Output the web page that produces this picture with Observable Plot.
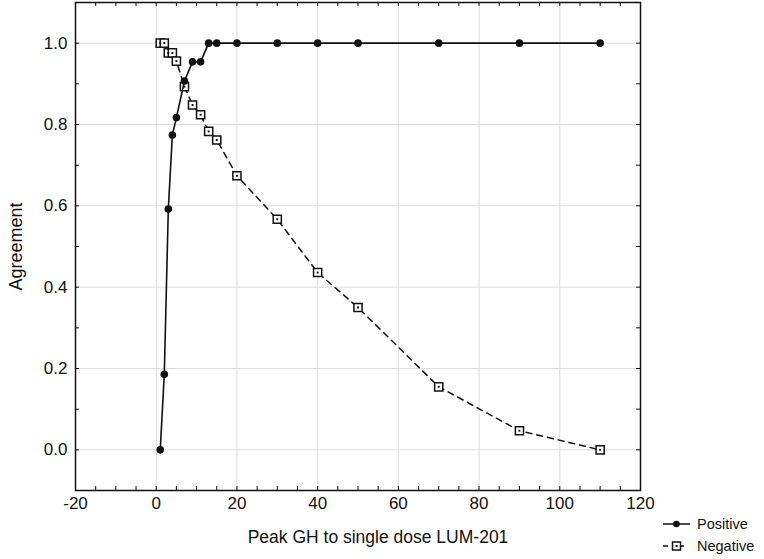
<!DOCTYPE html>
<html><head><meta charset="utf-8">
<script src="https://cdn.jsdelivr.net/npm/d3@7"></script>
<script src="https://cdn.jsdelivr.net/npm/@observablehq/plot@0.6"></script>
<style>
body{margin:0;background:#fff;font-family:"Liberation Sans",Arial,sans-serif}
#wrap{position:relative;width:764px;height:559px}
#legend{position:absolute;left:0;top:0}
</style>
</head><body><div id="wrap"></div>
<script>
// Data
const peakGH = [1, 2, 3, 4, 5, 7, 9, 11, 13, 15, 20, 30, 40, 50, 70, 90, 110];
const positiveAgreement = [0.0, 0.186, 0.592, 0.774, 0.817, 0.907, 0.954, 0.954, 1.0, 1.0, 1.0, 1.0, 1.0, 1.0, 1.0, 1.0, 1.0];
const negativeAgreement = [1.0, 1.0, 0.976, 0.976, 0.956, 0.893, 0.848, 0.824, 0.783, 0.762, 0.674, 0.567, 0.436, 0.35, 0.155, 0.047, 0.0];
const xTicks = [-20, 0, 20, 40, 60, 80, 100, 120];
const yTicks = [0, 0.2, 0.4, 0.6, 0.8, 1.0];
const xMinorTicks = d3.range(-20, 121, 5);
const yMinorTicks = d3.range(-1, 12).map(d => d / 10);
const seriesNames = ["Positive", "Negative"];
const xTitle = "Peak GH to single dose LUM-201";
const yTitle = "Agreement";

const pos = peakGH.map((x, i) => ({x, y: positiveAgreement[i]}));
const neg = peakGH.map((x, i) => ({x, y: negativeAgreement[i]}));

const W = 764, H = 559, mt = 2, mb = 69, ml = 75, mr = 124;
const fw = W - ml - mr, fh = H - mt - mb;
const tk = 4;
const FONT = '"Liberation Sans", Arial, sans-serif';

const chart = Plot.plot({
  width: W, height: H,
  marginTop: mt, marginBottom: mb, marginLeft: ml, marginRight: mr,
  style: {fontFamily: FONT, color: "#111", background: "#fff"},
  x: {domain: [-20, 120]},
  y: {domain: [-0.1, 1.1]},
  marks: [
    Plot.gridX(xTicks, {stroke: "#dcdcdc", strokeOpacity: 1}),
    Plot.gridY(yTicks, {stroke: "#dcdcdc", strokeOpacity: 1}),
    Plot.axisX(xTicks, {tickSize: 0, tickPadding: 6, fontSize: 17, label: null, tickFormat: d => String(d)}),
    Plot.axisY(yTicks, {tickSize: 0, tickPadding: 8, fontSize: 17, label: null, tickFormat: d3.format(".1f")}),
    // inward ticks on all four sides
    Plot.tickX(xMinorTicks, {x: d => d, insetTop: fh - tk, stroke: "#111"}),
    Plot.tickX(xMinorTicks, {x: d => d, insetBottom: fh - tk, stroke: "#111"}),
    Plot.tickY(yMinorTicks, {y: d => d, insetRight: fw - tk, stroke: "#111"}),
    Plot.tickY(yMinorTicks, {y: d => d, insetLeft: fw - tk, stroke: "#111"}),
    Plot.line(neg, {x: "x", y: "y", stroke: "#111", strokeWidth: 1.5, strokeDasharray: "6,5"}),
    Plot.dot(neg, {x: "x", y: "y", symbol: "square", r: 4.6, fill: "#fff", stroke: "#111", strokeWidth: 1.5}),
    Plot.dot(neg, {x: "x", y: "y", symbol: "square", r: 1.1, fill: "#111", stroke: "none"}),
    Plot.line(pos, {x: "x", y: "y", stroke: "#111", strokeWidth: 1.6}),
    Plot.dot(pos, {x: "x", y: "y", r: 3.8, fill: "#111", stroke: "none"}),
    Plot.frame({stroke: "#111", strokeWidth: 1.5}),
    Plot.text([xTitle], {frameAnchor: "bottom", textAnchor: "middle", lineAnchor: "middle", dx: 20, dy: 47, fontSize: 17.5, fill: "#111"}),
    Plot.text([yTitle], {frameAnchor: "left", textAnchor: "middle", lineAnchor: "middle", dx: -59, rotate: -90, fontSize: 18, fill: "#111"})
  ]
});
const wrap = document.getElementById("wrap");
wrap.appendChild(chart);

// Legend (bottom right)
const lg = d3.select(wrap).append("svg").attr("id", "legend").attr("width", W).attr("height", H);
const rows = [{name: seriesNames[0], y: 524, dash: null, sym: "dot"}, {name: seriesNames[1], y: 546, dash: "5,11", sym: "square"}];
rows.forEach(r => {
  const g = lg.append("g");
  g.append("line").attr("x1", 663).attr("x2", 690).attr("y1", r.y).attr("y2", r.y)
    .attr("stroke", "#111").attr("stroke-width", 1.5).attr("stroke-dasharray", r.dash);
  if (r.sym === "dot") g.append("circle").attr("cx", 676.5).attr("cy", r.y).attr("r", 3.3).attr("fill", "#111");
  else {
    g.append("rect").attr("x", 672.5).attr("y", r.y - 4).attr("width", 8).attr("height", 8).attr("fill", "#fff").attr("stroke", "#111").attr("stroke-width", 1.5);
    g.append("rect").attr("x", 675.5).attr("y", r.y - 1).attr("width", 2).attr("height", 2).attr("fill", "#111");
  }
  g.append("text").attr("x", 697).attr("y", r.y).attr("dy", "0.35em").attr("font-size", 14.5)
    .attr("font-family", FONT).attr("fill", "#111").text(r.name);
});
</script>
</body></html>
